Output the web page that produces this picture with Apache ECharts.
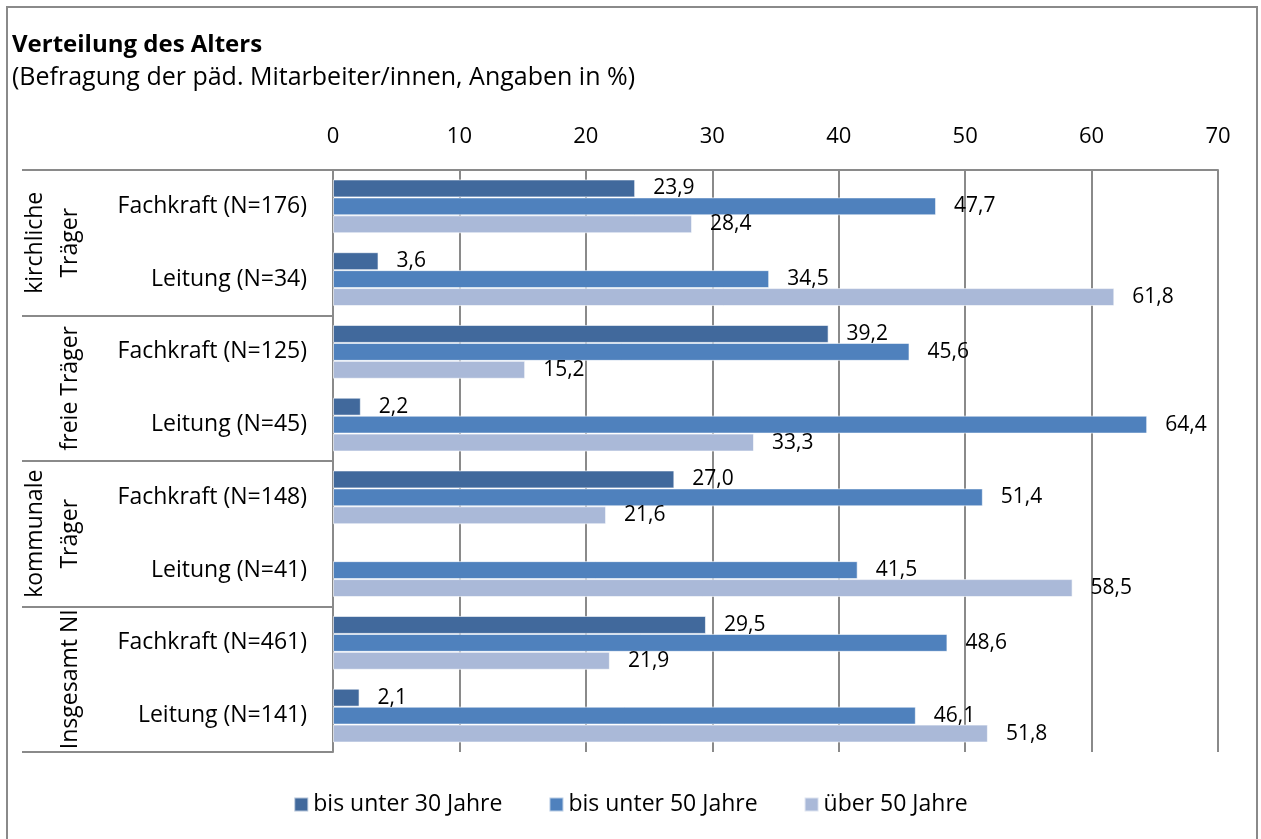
<!DOCTYPE html>
<html><head><meta charset="utf-8">
<script src="https://cdn.jsdelivr.net/npm/echarts@6/dist/echarts.min.js"></script>
<style>html,body{margin:0;padding:0;background:#fff}#c{width:1261px;height:839px}</style>
</head><body><div id="c"></div>
<script>
const categories = ["Fachkraft (N=176)","Leitung (N=34)","Fachkraft (N=125)","Leitung (N=45)","Fachkraft (N=148)","Leitung (N=41)","Fachkraft (N=461)","Leitung (N=141)"];
const groups = ["kirchliche\nTräger","freie Träger","kommunale\nTräger","Insgesamt NI"];
const seriesNames = ["bis unter 30 Jahre","bis unter 50 Jahre","über 50 Jahre"];
const under30 = [23.9, 3.6, 39.2, 2.2, 27.0, null, 29.5, 2.1];
const under50 = [47.7, 34.5, 45.6, 64.4, 51.4, 41.5, 48.6, 46.1];
const over50  = [28.4, 61.8, 15.2, 33.3, 21.6, 58.5, 21.9, 51.8];
const xTicks = [0,10,20,30,40,50,60,70];

const FONT = "Open Sans";
const colors = ["#41699c","#4f81bd","#aab9d8"];
const chart = echarts.init(document.getElementById('c'), null, {renderer:'canvas'});
const lbl = {show:true, position:'right', distance:18, color:'#000', fontFamily:FONT, fontSize:21,
  formatter: p => p.value == null ? '' : Number(p.value).toFixed(1).replace('.', ',')};
function mk(i, data){
  return {name:seriesNames[i], type:'bar', data:data, yAxisIndex:0,
    barGap:'0%', barCategoryGap:'26%',
    itemStyle:{color:colors[i], borderColor:'rgba(255,255,255,0.6)', borderWidth:1},
    label:lbl, emphasis:{disabled:true}};
}
chart.setOption({
  animation:false,
  textStyle:{fontFamily:FONT},
  title:{text:'Verteilung des Alters', subtext:'(Befragung der päd. Mitarbeiter/innen, Angaben in %)',
    left:7, top:28, itemGap:8,
    textStyle:{fontFamily:FONT, fontSize:24, fontWeight:'bold', color:'#000'},
    subtextStyle:{fontFamily:FONT, fontSize:25, color:'#000'}},
  legend:{bottom:18, left:'center', itemWidth:14, itemHeight:14, itemGap:46, icon:'rect',
    textStyle:{fontFamily:FONT, fontSize:23, color:'#000'}, data:seriesNames},
  grid:{left:333, right:43, top:170, bottom:87, containLabel:false},
  xAxis:{type:'value', position:'top', min:xTicks[0], max:xTicks[xTicks.length-1], interval:10,
    axisLine:{show:true, lineStyle:{color:'#8a8a8a', width:2}}, axisTick:{show:false},
    axisLabel:{fontFamily:FONT, fontSize:22, color:'#000', margin:22},
    splitLine:{show:true, lineStyle:{color:'#8a8a8a', width:2}}},
  yAxis:[
    {type:'category', data:categories, inverse:true,
     axisLine:{show:true, lineStyle:{color:'#8a8a8a', width:2}}, axisTick:{show:false},
     axisLabel:{interval:0, fontFamily:FONT, fontSize:23, color:'#000', margin:26}},
    {type:'category', data:groups, inverse:true, position:'left',
     axisLine:{show:false},
     axisTick:{show:true, interval:0, length:311, lineStyle:{color:'#8a8a8a', width:2}},
     axisLabel:{interval:0, rotate:90, fontFamily:FONT, fontSize:23, color:'#000', margin:245, lineHeight:35}}
  ],
  series:[mk(0, under30), mk(1, under50), mk(2, over50)],
  graphic:[{type:'rect', shape:{x:7, y:7, width:1250, height:840}, style:{fill:null, stroke:'#8a8a8a', lineWidth:2}, silent:true}]
});
</script></body></html>
